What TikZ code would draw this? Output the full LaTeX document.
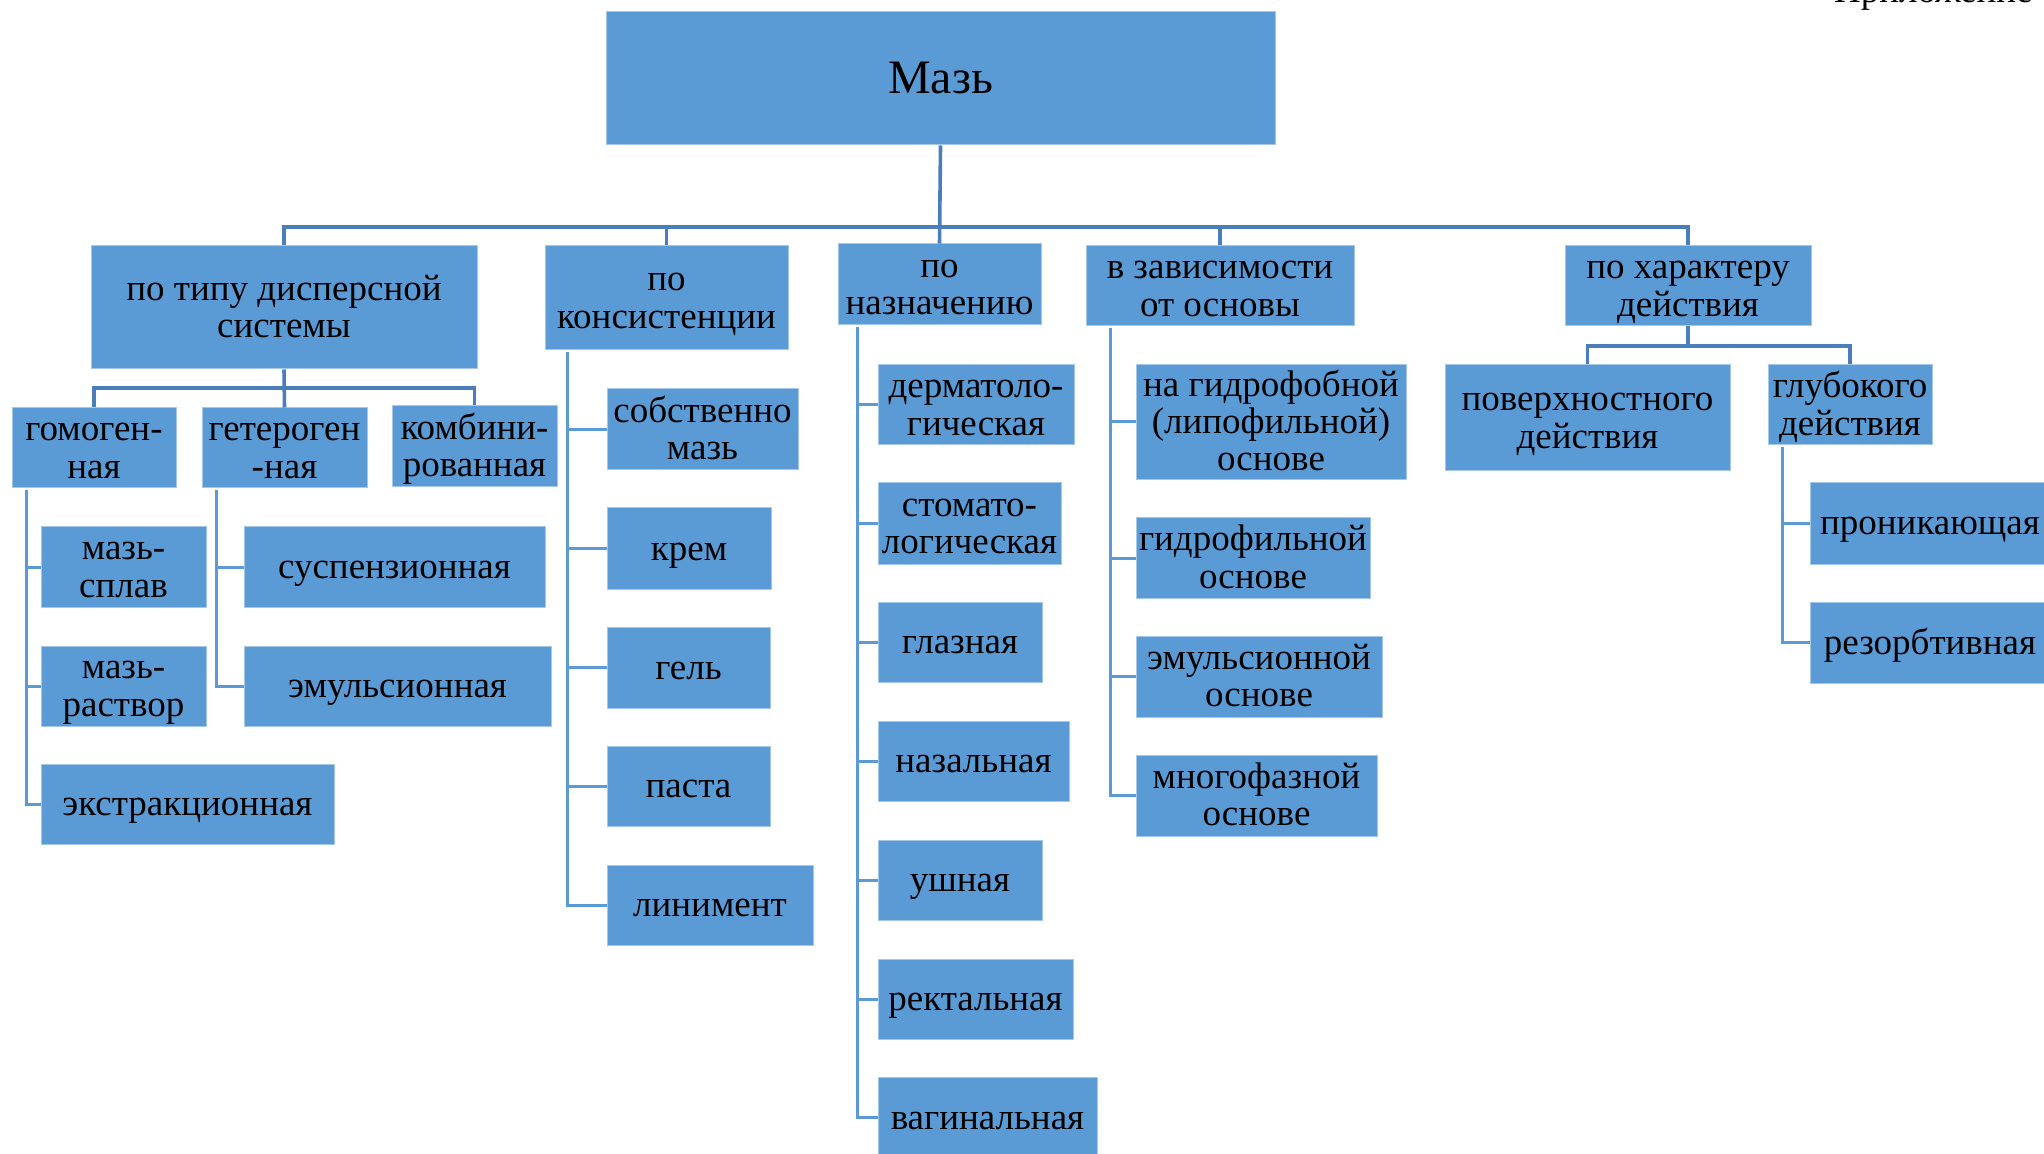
\documentclass[tikz,border=0pt]{standalone}
\usepackage{fontspec}
\setmainfont{Liberation Serif}
\definecolor{boxblue}{HTML}{5B9BD5}
\definecolor{busblue}{HTML}{4A7EBB}
\definecolor{lstblue}{HTML}{5B9BD5}
\tikzset{
  basebox/.style={rectangle, fill=boxblue, draw=boxblue!55!white, line width=0.5pt,
    inner sep=0pt, align=center, text=black},
  box/.style={basebox, font=\fontsize{18.5}{18.7}\selectfont},
  rootbox/.style={basebox, font=\fontsize{24}{26}\selectfont},
  busline/.style={draw=busblue, line width=1.8pt},
  lstline/.style={draw=lstblue, line width=1.5pt},
}
\newcommand\topstrut{\rule{0pt}{16pt}}
\newcommand\botstrut{\rule[-4.5pt]{0pt}{4.5pt}}
\newcommand\bx[7][box]{\node[#1, minimum width={(#5-#3)*0.5pt}, minimum height={(#6-#4)*0.5pt}] (#2) at ({(#3+#5)/2},{(#4+#6)/2}) {\topstrut#7\botstrut};}
\begin{document}
\begin{tikzpicture}[x=0.5pt,y=-0.5pt]
\useasboundingbox (0,0) rectangle (2044,1154);
% top right cut-off caption
\node[anchor=base east, inner sep=0pt, font=\fontsize{18.5}{19.3}\selectfont] (app) at (2033,3) {Приложение};
% root
\node[rootbox, minimum width=334.5pt, minimum height=66.5pt] (root) at (940.5,78.5) {Мазь};
% level 1
\bx{tip}{91}{246}{477}{369}{по типу дисперсной\\системы}
\bx{kons}{545}{246}{788}{350}{по\\консистенции}
\bx{nazn}{838}{244}{1041}{325}{по\\назначению}
\bx{osn}{1086}{246}{1354}{326}{в зависимости\\от основы}
\bx{har}{1565}{246}{1811}{326}{по характеру\\действия}
% under tip
\bx{homo}{12}{408}{176}{488}{гомоген-\\ная}
\bx{hetero}{202}{408}{367}{488}{гетероген\\-ная}
\bx{komb}{392}{406}{557}{487}{комбини-\\рованная}
\bx{splav}{41}{527}{206}{607}{мазь-\\сплав}
\bx{rastv}{41}{646}{206}{726}{мазь-\\раствор}
\bx{extr}{41}{764}{334}{844}{экстракционная}
\bx{susp}{244}{527}{545}{607}{суспензионная}
\bx{emul}{244}{646}{551}{726}{эмульсионная}
% under kons
\bx{sobst}{607}{389}{798}{470}{собственно\\мазь}
\bx{krem}{607}{508}{771}{589}{крем}
\bx{gel}{607}{627}{770}{708}{гель}
\bx{pasta}{607}{746}{770}{826}{паста}
\bx{lin}{607}{865}{813}{945}{линимент}
% under nazn
\bx{derm}{878}{365}{1074}{445}{дерматоло-\\гическая}
\bx{stom}{878}{483}{1061}{564}{стомато-\\логическая}
\bx{glaz}{878}{602}{1042}{682}{глазная}
\bx{nazal}{878}{721}{1069}{801}{назальная}
\bx{ush}{878}{840}{1042}{920}{ушная}
\bx{rekt}{878}{959}{1073}{1039}{ректальная}
\bx{vag}{878}{1077}{1097}{1158}{вагинальная}
% under osn
\bx{gfob}{1136}{365}{1406}{479}{на гидрофобной\\(липофильной)\\основе}
\bx{gfil}{1136}{518}{1370}{598}{гидрофильной\\основе}
\bx{emo}{1136}{636}{1382}{717}{эмульсионной\\основе}
\bx{mnog}{1136}{755}{1377}{836}{многофазной\\основе}
% under har
\bx{pov}{1445}{365}{1730}{471}{поверхностного\\действия}
\bx{glub}{1768}{365}{1932}{445}{глубокого\\действия}
\bx{pron}{1810}{483}{2050}{564}{проникающая}
\bx{rez}{1810}{602}{2050}{683}{резорбтивная}
% main bus
\coordinate (bus) at (940,227);
\draw[busline] (root.south) -- (nazn.north);
\draw[busline] (tip.north) |- (bus) -| (har.north);
\draw[busline] (kons.north) -- (kons.north |- bus);
\draw[busline] (osn.north) -- (osn.north |- bus);
% sub bus under tip
\coordinate (sb1) at (284,388);
\draw[busline] (tip.south) -- (hetero.north);
\draw[busline] (homo.north) |- (sb1) -| (komb.north);
% sub bus under har
\coordinate (sb5) at (1688,346);
\draw[busline] (har.south) -- (sb5);
\draw[busline] (pov.north) |- (sb5) -| (glub.north);
% lists
\coordinate (hv) at ([xshift=7.5pt,yshift=-1pt]homo.south west);
\draw[lstline] (hv) |- (splav.west);
\draw[lstline] (hv) |- (rastv.west);
\draw[lstline] (hv) |- (extr.west);
\coordinate (htv) at ([xshift=7.5pt,yshift=-1pt]hetero.south west);
\draw[lstline] (htv) |- (susp.west);
\draw[lstline] (htv) |- (emul.west);
\coordinate (kv) at ([xshift=11.5pt,yshift=-1pt]kons.south west);
\draw[lstline] (kv) |- (sobst.west);
\draw[lstline] (kv) |- (krem.west);
\draw[lstline] (kv) |- (gel.west);
\draw[lstline] (kv) |- (pasta.west);
\draw[lstline] (kv) |- (lin.west);
\coordinate (nv) at ([xshift=10pt,yshift=-1pt]nazn.south west);
\draw[lstline] (nv) |- (derm.west);
\draw[lstline] (nv) |- (stom.west);
\draw[lstline] (nv) |- (glaz.west);
\draw[lstline] (nv) |- (nazal.west);
\draw[lstline] (nv) |- (ush.west);
\draw[lstline] (nv) |- (rekt.west);
\draw[lstline] (nv) |- (vag.west);
\coordinate (ov) at ([xshift=12.5pt,yshift=-1pt]osn.south west);
\draw[lstline] (ov) |- (gfob.west);
\draw[lstline] (ov) |- (gfil.west);
\draw[lstline] (ov) |- (emo.west);
\draw[lstline] (ov) |- (mnog.west);
\coordinate (gv) at ([xshift=7.5pt,yshift=-1pt]glub.south west);
\draw[lstline] (gv) |- (pron.west);
\draw[lstline] (gv) |- (rez.west);
\end{tikzpicture}
\end{document}
